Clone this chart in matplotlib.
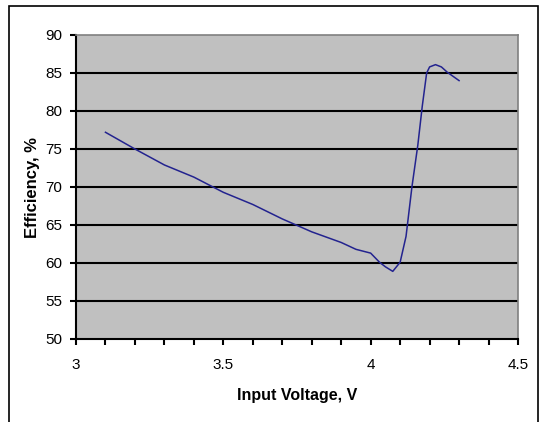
import matplotlib
matplotlib.use("Agg")
import matplotlib.pyplot as plt
from matplotlib.patches import Rectangle
from matplotlib.ticker import MultipleLocator, FuncFormatter

plt.rcParams['font.family'] = ['Liberation Sans', 'DejaVu Sans']

voltage = [3.1, 3.2, 3.3, 3.4, 3.5, 3.6, 3.7, 3.8, 3.9, 3.95, 4.0, 4.03, 4.05,
           4.075, 4.1, 4.12, 4.14, 4.16, 4.175, 4.19, 4.2, 4.22, 4.24, 4.26, 4.3]
efficiency = [77.2, 75.0, 72.9, 71.3, 69.3, 67.7, 65.8, 64.1, 62.7, 61.8, 61.3, 60.1, 59.5,
              58.9, 60.1, 63.5, 70.0, 75.5, 80.6, 85.0, 85.8, 86.1, 85.8, 85.1, 84.0]

fig = plt.figure(figsize=(5.41, 4.22), dpi=100)
fig.patch.set_facecolor('white')
ax = fig.add_axes([76/541, 1-339/422, (518-76)/541, (339-35)/422])
ax.set_facecolor('#C0C0C0')

# outer chart frame
fig.patches.append(Rectangle((9/541, -0.05), (538-9)/541, 1.05-6/422,
                             transform=fig.transFigure, fill=False,
                             edgecolor='black', linewidth=1.2))

ax.plot(voltage, efficiency, color='#23238f', linewidth=1.1)

ax.set_xlim(3, 4.5)
ax.set_ylim(50, 90)
ax.xaxis.set_major_locator(MultipleLocator(0.1))
ax.xaxis.set_major_formatter(FuncFormatter(
    lambda v, p: (('%g' % round(v, 1)) if abs(v * 2 - round(v * 2)) < 1e-6 else '')))
ax.yaxis.set_major_locator(MultipleLocator(5))

for y in range(55, 90, 5):
    ax.axhline(y, color='black', linewidth=1.5, zorder=1)

for s in ['left', 'bottom']:
    ax.spines[s].set_color('black')
    ax.spines[s].set_linewidth(1.5)
for s in ['top', 'right']:
    ax.spines[s].set_color('#808080')
    ax.spines[s].set_linewidth(1.2)

ax.tick_params(axis='both', direction='out', length=4, width=1.5, labelsize=11,
               colors='black')
ax.tick_params(axis='x', pad=10)
ax.tick_params(axis='y', pad=6)

ax.set_xlabel('Input Voltage, V', fontsize=11.5, fontweight='bold', labelpad=11)
ax.set_ylabel('Efficiency, %', fontsize=12, fontweight='bold', labelpad=4)

fig.savefig('out.png', dpi=100)
